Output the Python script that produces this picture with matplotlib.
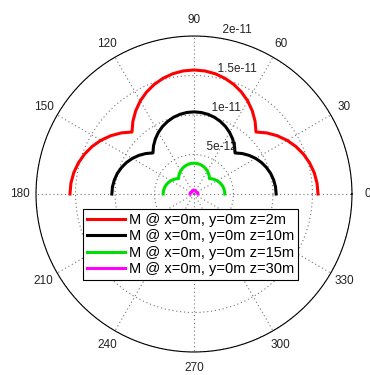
import numpy as np
import matplotlib
matplotlib.use("Agg")
import matplotlib.pyplot as plt

plt.rcParams["font.family"] = ["Liberation Sans", "DejaVu Sans"]

# angles in degrees (upper half only)
angles = list(range(0, 181, 5))

# field magnitude, units of 1e-12
red_m = [15.70, 15.64, 15.46, 15.16, 14.75, 14.23, 13.60, 12.86, 12.03, 11.10,
         12.03, 12.86, 13.60, 14.23, 14.75, 15.16, 15.46, 15.64, 15.70,
         15.64, 15.46, 15.16, 14.75, 14.23, 13.60, 12.86, 12.03, 11.10,
         12.03, 12.86, 13.60, 14.23, 14.75, 15.16, 15.46, 15.64, 15.70]
black_m = [10.40, 10.36, 10.24, 10.05, 9.77, 9.43, 9.01, 8.52, 7.97, 7.35,
           7.97, 8.52, 9.01, 9.43, 9.77, 10.05, 10.24, 10.36, 10.40,
           10.36, 10.24, 10.05, 9.77, 9.43, 9.01, 8.52, 7.97, 7.35,
           7.97, 8.52, 9.01, 9.43, 9.77, 10.05, 10.24, 10.36, 10.40]
green_m = [3.90, 3.89, 3.84, 3.77, 3.66, 3.53, 3.38, 3.19, 2.99, 2.76,
           2.99, 3.19, 3.38, 3.53, 3.66, 3.77, 3.84, 3.89, 3.90,
           3.89, 3.84, 3.77, 3.66, 3.53, 3.38, 3.19, 2.99, 2.76,
           2.99, 3.19, 3.38, 3.53, 3.66, 3.77, 3.84, 3.89, 3.90]
magenta_m = [0.50, 0.50, 0.49, 0.48, 0.47, 0.45, 0.43, 0.41, 0.38, 0.35,
             0.38, 0.41, 0.43, 0.45, 0.47, 0.48, 0.49, 0.50, 0.50,
             0.50, 0.49, 0.48, 0.47, 0.45, 0.43, 0.41, 0.38, 0.35,
             0.38, 0.41, 0.43, 0.45, 0.47, 0.48, 0.49, 0.50, 0.50]

labels = ["M @ x=0m, y=0m z=2m", "M @ x=0m, y=0m z=10m",
          "M @ x=0m, y=0m z=15m", "M @ x=0m, y=0m z=30m"]
colors = ["#ff0000", "#000000", "#00e000", "#ff00ff"]

r_ticks = [5e-12, 1e-11, 1.5e-11, 2e-11]
r_tick_labels = ["5e-12", "1e-11", "1.5e-11", "2e-11"]
theta_ticks = list(range(0, 360, 30))

fig = plt.figure(figsize=(3.7, 3.75), dpi=100)
ax = fig.add_axes([0.0973, 0.0613, 0.854, 0.8427], projection="polar")

th = np.deg2rad(angles)
for vals, col, lab in zip([red_m, black_m, green_m, magenta_m], colors, labels):
    ax.plot(th, np.array(vals) * 1e-12, color=col, lw=2.2, label=lab)

rmax = r_ticks[-1]
ax.set_ylim(0, rmax)
ax.set_yticks(r_ticks)
ax.set_yticklabels([])
ax.set_xticks(np.deg2rad(theta_ticks))
ax.set_xticklabels([])
ax.grid(True, color="0.45", linestyle=(0, (1, 2.5)), lw=0.8)
ax.spines["polar"].set_color("black")
ax.spines["polar"].set_linewidth(0.8)

# angle labels
for a in theta_ticks:
    ax.text(np.deg2rad(a), 1.1 * rmax, str(a), ha="center", va="center",
            fontsize=8.5, color="#222222")

# ring labels, MATLAB style at 82 degrees
for r, lab in zip(r_ticks, r_tick_labels):
    ax.text(np.deg2rad(82), r + 0.25e-12, "  " + lab, ha="left", va="bottom",
            fontsize=8.5, color="#222222")

leg = ax.legend(loc="upper left", bbox_to_anchor=(0.224, 0.443),
                bbox_transform=fig.transFigure, fontsize=10.5, frameon=True,
                fancybox=False, borderpad=0.3, labelspacing=0.15,
                handlelength=2.6, handletextpad=0.25, borderaxespad=0)
leg.get_frame().set_edgecolor("black")
leg.get_frame().set_linewidth(0.8)
leg.get_frame().set_alpha(1)

fig.savefig("out.png", dpi=100)
